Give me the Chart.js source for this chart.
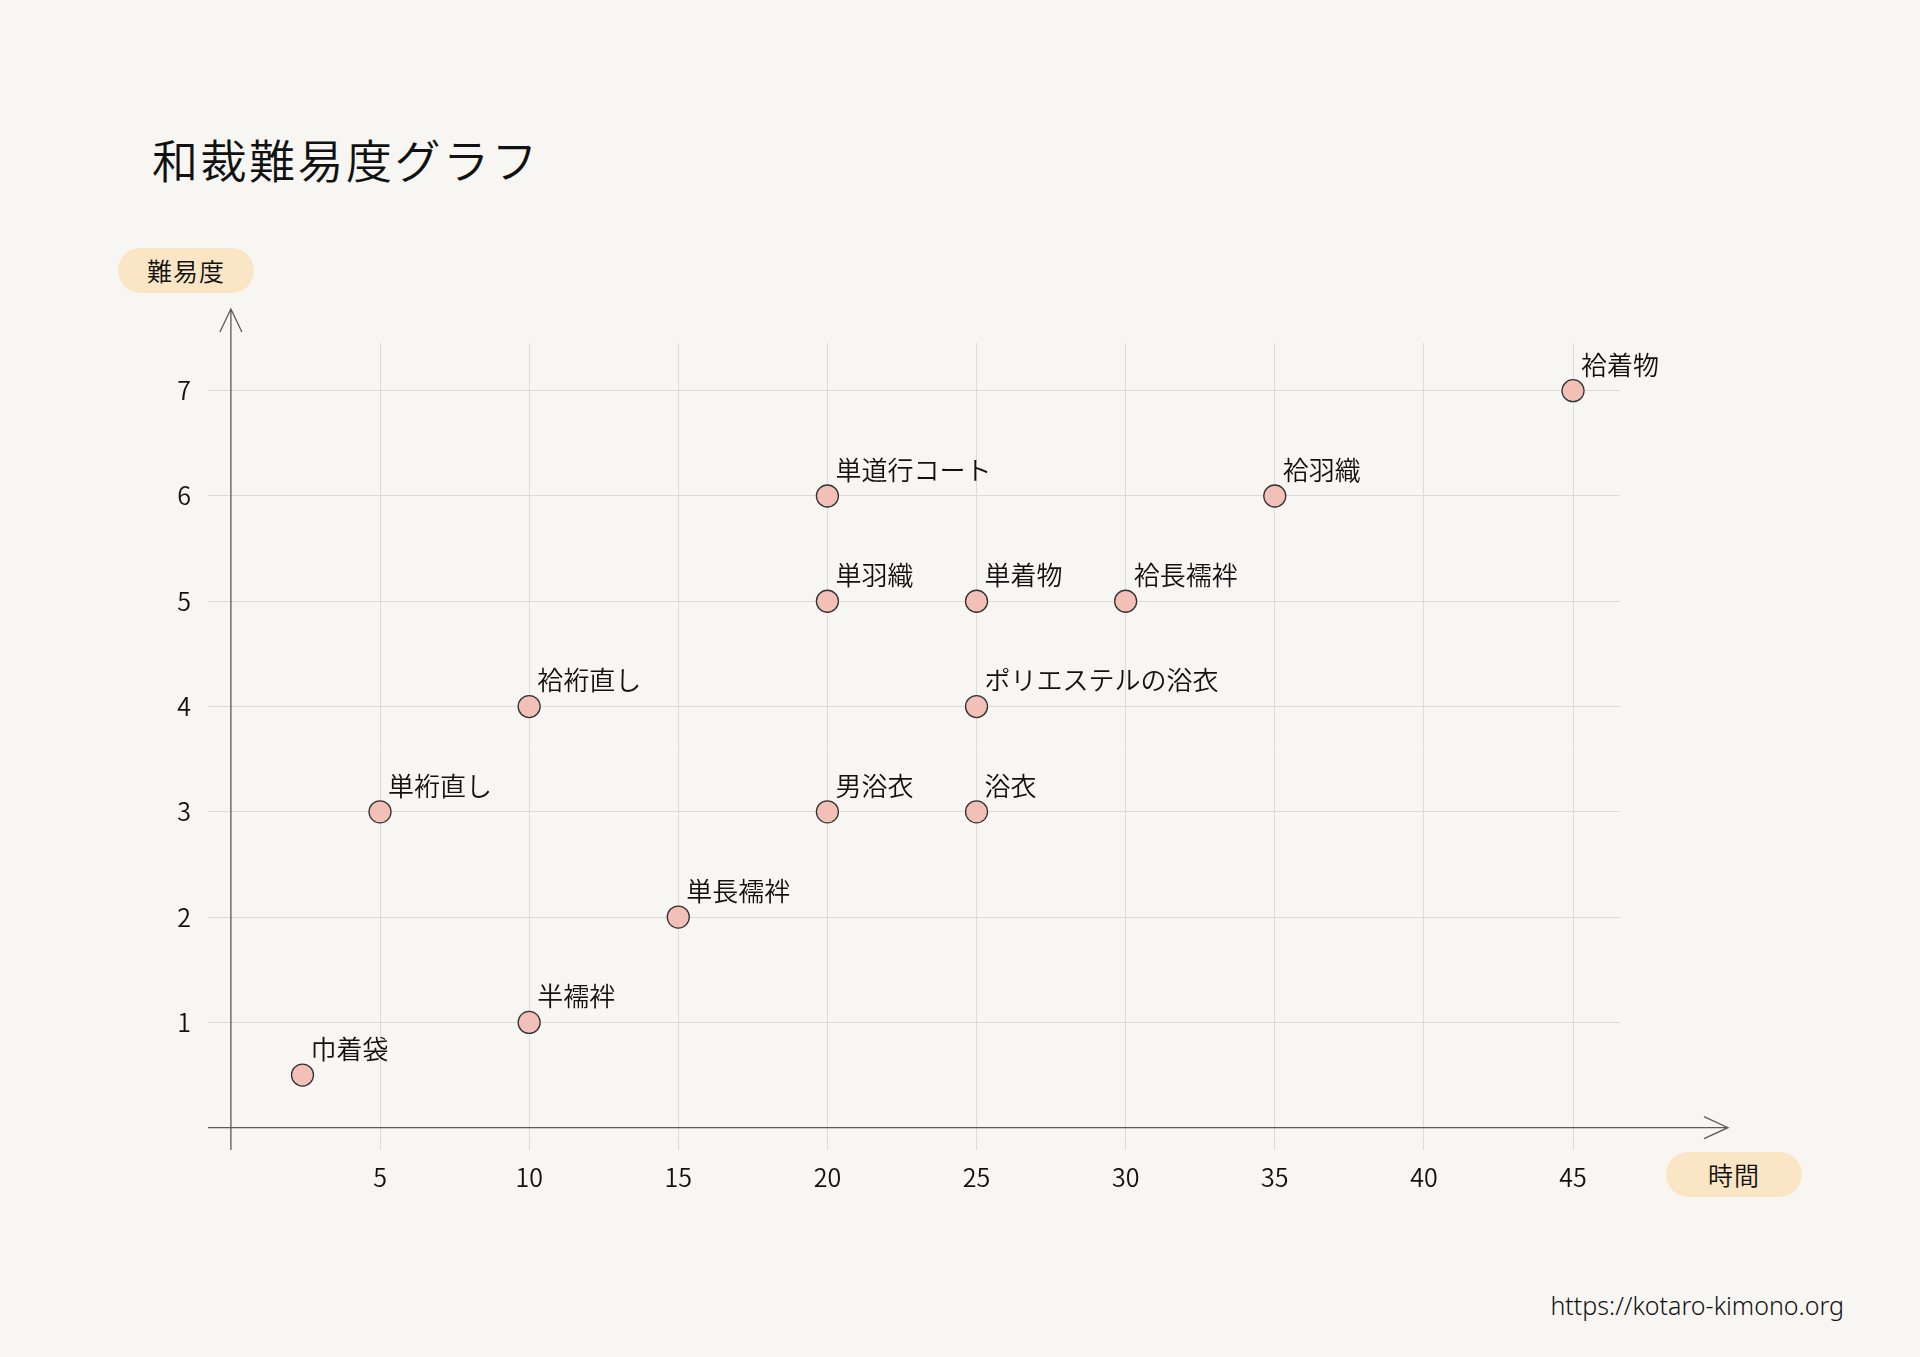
<!DOCTYPE html>
<html lang="ja">
<head>
<meta charset="utf-8">
<title>和裁難易度グラフ</title>
<script src="https://cdn.jsdelivr.net/npm/chart.js@4"></script>
<style>
  html, body { margin: 0; padding: 0; background: #F7F6F2; }
  body { width: 1920px; height: 1357px; position: relative; overflow: hidden;
         font-family: "Noto Sans CJK JP", "Noto Sans", sans-serif; color: #111; }
  #chart { position: absolute; left: 0; top: 0; }
  .title { position: absolute; left: 152px; top: 128px; font-size: 46px; letter-spacing: 2.5px; line-height: 60px; margin: 0; font-weight: 350; }
  .pill { position: absolute; width: 136px; height: 45px; border-radius: 23px; background: #FAE6C4;
          font-size: 25px; line-height: 45px; text-align: center; letter-spacing: 1px; font-weight: 350; }
  .url { position: absolute; right: 76px; top: 1288px; font-family: "Noto Sans", sans-serif; font-size: 25px; color: #111; font-weight: 350; }
</style>
</head>
<body>
<h1 class="title">和裁難易度グラフ</h1>
<div class="pill" style="left:118px; top:248px;">難易度</div>
<div class="pill" style="left:1666px; top:1152px;">時間</div>
<div class="url">https://kotaro-kimono.org</div>
<canvas id="chart" width="1920" height="1357"></canvas>
<script>
// Data
const items = ['巾着袋', '半襦袢', '単長襦袢', '単裄直し', '男浴衣', '浴衣', '袷裄直し', 'ポリエステルの浴衣',
               '単羽織', '単着物', '袷長襦袢', '単道行コート', '袷羽織', '袷着物'];
const hours = [2.4, 10, 15, 5, 20, 25, 10, 25, 20, 25, 30, 20, 35, 45];
const difficulty = [0.5, 1, 2, 3, 3, 3, 4, 4, 5, 5, 5, 6, 6, 7];
const xTicks = [5, 10, 15, 20, 25, 30, 35, 40, 45];
const yTicks = [1, 2, 3, 4, 5, 6, 7];

const tickFont = { family: '"Noto Sans CJK JP", "Noto Sans", sans-serif', size: 25, weight: 350 };

// axes with arrow heads + point labels
const decorPlugin = {
    id: 'decor',
    beforeDatasetsDraw(chart) {
        const {ctx, chartArea, scales} = chart;
        const x0 = scales.x.getPixelForValue(0);
        const y0 = scales.y.getPixelForValue(0);
        ctx.save();
        ctx.strokeStyle = '#5a5a5a';
        ctx.lineWidth = 1.3;
        ctx.beginPath();
        // y axis
        ctx.moveTo(x0, chartArea.bottom);
        ctx.lineTo(x0, chartArea.top - 34);
        ctx.moveTo(x0 - 11, chartArea.top - 11);
        ctx.lineTo(x0, chartArea.top - 34);
        ctx.lineTo(x0 + 11, chartArea.top - 11);
        // x axis
        ctx.moveTo(chartArea.left, y0);
        ctx.lineTo(chartArea.right + 108, y0);
        ctx.moveTo(chartArea.right + 84, y0 - 11);
        ctx.lineTo(chartArea.right + 108, y0);
        ctx.lineTo(chartArea.right + 84, y0 + 11);
        ctx.stroke();
        ctx.restore();
    },
    afterDatasetsDraw(chart) {
        const {ctx} = chart;
        const meta = chart.getDatasetMeta(0);
        ctx.save();
        ctx.fillStyle = '#111';
        ctx.font = '350 26px "Noto Sans CJK JP", sans-serif';
        ctx.textAlign = 'left';
        ctx.textBaseline = 'middle';
        meta.data.forEach((pt, i) => {
            ctx.fillText(items[i], pt.x + 8, pt.y - 26);
        });
        ctx.restore();
    }
};

new Chart(document.getElementById('chart'), {
    type: 'scatter',
    data: {
        datasets: [{
            label: '和裁',
            data: hours.map((h, i) => ({x: h, y: difficulty[i]})),
            backgroundColor: '#F2C0B6',
            borderColor: '#333333',
            borderWidth: 1.3,
            pointRadius: 11,
            pointHoverRadius: 11
        }]
    },
    options: {
        responsive: false,
        animation: false,
        devicePixelRatio: 1,
        layout: { padding: { left: 150, right: 300, top: 343, bottom: 147 } },
        plugins: {
            legend: { display: false },
            tooltip: { enabled: false }
        },
        scales: {
            x: {
                type: 'linear',
                min: -0.768,
                max: 46.575,
                afterBuildTicks: s => { s.ticks = xTicks.map(v => ({value: v})); },
                afterFit: s => { s.height = 60; },
                grid: { color: '#DDDBD6', lineWidth: 1, drawTicks: false },
                border: { display: false },
                ticks: { color: '#111', font: tickFont, padding: 12, maxRotation: 0 }
            },
            y: {
                type: 'linear',
                min: -0.212,
                max: 7.453,
                afterBuildTicks: s => { s.ticks = yTicks.map(v => ({value: v})); },
                afterFit: s => { s.width = 58; },
                grid: { color: '#DDDBD6', lineWidth: 1, drawTicks: false },
                border: { display: false },
                ticks: { color: '#111', font: tickFont, padding: 17 }
            }
        }
    },
    plugins: [decorPlugin]
});
</script>
</body>
</html>
